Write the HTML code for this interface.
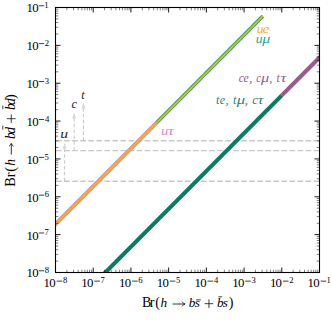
<!DOCTYPE html><html><head><meta charset="utf-8"><style>html,body{margin:0;padding:0;background:#fff;width:332px;height:320px;overflow:hidden}svg{display:block}text{font-family:"Liberation Serif",serif}.it{font-style:italic}</style></head><body>
<svg width="332" height="320" viewBox="0 0 332 320">
<rect width="332" height="320" fill="#fff"/>
<defs><clipPath id="c"><rect x="55.5" y="7.5" width="264.0" height="265.0"/></clipPath></defs>
<g clip-path="url(#c)">
<path d="M55.5 140.75H319.5M55.5 150.65H319.5M55.5 181.2H319.5" stroke="#c8c8c8" stroke-width="1.4" stroke-dasharray="5.6 2.45" stroke-dashoffset="-0.6" fill="none"/>
<path d="M64.6 181.2V148.1" stroke="#c8c8c8" stroke-width="1.05" stroke-dasharray="3.5 2.35" fill="none"/>
<path d="M64.6 148.29999999999998V144.1" stroke="#c8c8c8" stroke-width="1.05"/>
<path d="M64.6 143.1L62.49999999999999 148.7L66.69999999999999 148.7Z" fill="#dadada"/>
<path d="M74.15 150.65V117.9" stroke="#c8c8c8" stroke-width="1.05" stroke-dasharray="3.5 2.35" fill="none"/>
<path d="M74.15 118.10000000000001V113.9" stroke="#c8c8c8" stroke-width="1.05"/>
<path d="M74.15 112.9L72.05000000000001 118.5L76.25 118.5Z" fill="#dadada"/>
<path d="M83.45 140.75V107.8" stroke="#c8c8c8" stroke-width="1.05" stroke-dasharray="3.5 2.35" fill="none"/>
<path d="M83.45 108.0V103.8" stroke="#c8c8c8" stroke-width="1.05"/>
<path d="M83.45 102.8L81.35000000000001 108.39999999999999L85.55 108.39999999999999Z" fill="#dadada"/>
</g>
<g clip-path="url(#c)" fill="none" stroke-linecap="butt">
<path d="M156.00 123.31L262.80 16.11" stroke="#1fa896" stroke-width="3.7"/>
<path d="M156.00 123.31L262.80 16.11" stroke="#ffb000" stroke-width="1.7"/>
<path d="M44.19 235.55L156.00 123.31" stroke="#b39cf2" stroke-width="4.0"/>
<path d="M44.19 235.55L156.00 123.31" stroke="#f28a7c" stroke-width="2.9"/>
<path d="M44.19 235.55L156.00 123.31" stroke="#ffab12" stroke-width="2.0"/>
<path d="M93.21 284.61L281.79 95.33" stroke="#0c7a66" stroke-width="4.1"/>
<path d="M281.79 95.33L338.36 38.54" stroke="#9a5a8b" stroke-width="4.1"/>
</g>
<rect x="55.5" y="7.5" width="264.0" height="265.0" fill="none" stroke="#000" stroke-width="1.1"/>
<path d="M55.50 272.5v-5.0M55.50 7.5v5.0M55.5 272.50h5.0M319.5 272.50h-5.0M93.21 272.5v-5.0M93.21 7.5v5.0M55.5 234.64h5.0M319.5 234.64h-5.0M130.93 272.5v-5.0M130.93 7.5v5.0M55.5 196.79h5.0M319.5 196.79h-5.0M168.64 272.5v-5.0M168.64 7.5v5.0M55.5 158.93h5.0M319.5 158.93h-5.0M206.36 272.5v-5.0M206.36 7.5v5.0M55.5 121.07h5.0M319.5 121.07h-5.0M244.07 272.5v-5.0M244.07 7.5v5.0M55.5 83.21h5.0M319.5 83.21h-5.0M281.79 272.5v-5.0M281.79 7.5v5.0M55.5 45.36h5.0M319.5 45.36h-5.0M319.50 272.5v-5.0M319.50 7.5v5.0M55.5 7.50h5.0M319.5 7.50h-5.0" stroke="#000" stroke-width="0.9"/>
<path d="M66.85 272.5v-2.8M66.85 7.5v2.8M55.5 261.10h2.8M319.5 261.10h-2.8M73.49 272.5v-2.8M73.49 7.5v2.8M55.5 254.44h2.8M319.5 254.44h-2.8M78.21 272.5v-2.8M78.21 7.5v2.8M55.5 249.71h2.8M319.5 249.71h-2.8M81.86 272.5v-2.8M81.86 7.5v2.8M55.5 246.04h2.8M319.5 246.04h-2.8M84.85 272.5v-2.8M84.85 7.5v2.8M55.5 243.04h2.8M319.5 243.04h-2.8M87.37 272.5v-2.8M87.37 7.5v2.8M55.5 240.51h2.8M319.5 240.51h-2.8M89.56 272.5v-2.8M89.56 7.5v2.8M55.5 238.31h2.8M319.5 238.31h-2.8M91.49 272.5v-2.8M91.49 7.5v2.8M55.5 236.38h2.8M319.5 236.38h-2.8M104.57 272.5v-2.8M104.57 7.5v2.8M55.5 223.25h2.8M319.5 223.25h-2.8M111.21 272.5v-2.8M111.21 7.5v2.8M55.5 216.58h2.8M319.5 216.58h-2.8M115.92 272.5v-2.8M115.92 7.5v2.8M55.5 211.85h2.8M319.5 211.85h-2.8M119.58 272.5v-2.8M119.58 7.5v2.8M55.5 208.18h2.8M319.5 208.18h-2.8M122.56 272.5v-2.8M122.56 7.5v2.8M55.5 205.18h2.8M319.5 205.18h-2.8M125.09 272.5v-2.8M125.09 7.5v2.8M55.5 202.65h2.8M319.5 202.65h-2.8M127.27 272.5v-2.8M127.27 7.5v2.8M55.5 200.45h2.8M319.5 200.45h-2.8M129.20 272.5v-2.8M129.20 7.5v2.8M55.5 198.52h2.8M319.5 198.52h-2.8M142.28 272.5v-2.8M142.28 7.5v2.8M55.5 185.39h2.8M319.5 185.39h-2.8M148.92 272.5v-2.8M148.92 7.5v2.8M55.5 178.72h2.8M319.5 178.72h-2.8M153.63 272.5v-2.8M153.63 7.5v2.8M55.5 173.99h2.8M319.5 173.99h-2.8M157.29 272.5v-2.8M157.29 7.5v2.8M55.5 170.32h2.8M319.5 170.32h-2.8M160.28 272.5v-2.8M160.28 7.5v2.8M55.5 167.33h2.8M319.5 167.33h-2.8M162.80 272.5v-2.8M162.80 7.5v2.8M55.5 164.79h2.8M319.5 164.79h-2.8M164.99 272.5v-2.8M164.99 7.5v2.8M55.5 162.60h2.8M319.5 162.60h-2.8M166.92 272.5v-2.8M166.92 7.5v2.8M55.5 160.66h2.8M319.5 160.66h-2.8M180.00 272.5v-2.8M180.00 7.5v2.8M55.5 147.53h2.8M319.5 147.53h-2.8M186.64 272.5v-2.8M186.64 7.5v2.8M55.5 140.87h2.8M319.5 140.87h-2.8M191.35 272.5v-2.8M191.35 7.5v2.8M55.5 136.14h2.8M319.5 136.14h-2.8M195.00 272.5v-2.8M195.00 7.5v2.8M55.5 132.47h2.8M319.5 132.47h-2.8M197.99 272.5v-2.8M197.99 7.5v2.8M55.5 129.47h2.8M319.5 129.47h-2.8M200.52 272.5v-2.8M200.52 7.5v2.8M55.5 126.94h2.8M319.5 126.94h-2.8M202.70 272.5v-2.8M202.70 7.5v2.8M55.5 124.74h2.8M319.5 124.74h-2.8M204.63 272.5v-2.8M204.63 7.5v2.8M55.5 122.80h2.8M319.5 122.80h-2.8M217.71 272.5v-2.8M217.71 7.5v2.8M55.5 109.68h2.8M319.5 109.68h-2.8M224.35 272.5v-2.8M224.35 7.5v2.8M55.5 103.01h2.8M319.5 103.01h-2.8M229.06 272.5v-2.8M229.06 7.5v2.8M55.5 98.28h2.8M319.5 98.28h-2.8M232.72 272.5v-2.8M232.72 7.5v2.8M55.5 94.61h2.8M319.5 94.61h-2.8M235.70 272.5v-2.8M235.70 7.5v2.8M55.5 91.61h2.8M319.5 91.61h-2.8M238.23 272.5v-2.8M238.23 7.5v2.8M55.5 89.08h2.8M319.5 89.08h-2.8M240.42 272.5v-2.8M240.42 7.5v2.8M55.5 86.88h2.8M319.5 86.88h-2.8M242.35 272.5v-2.8M242.35 7.5v2.8M55.5 84.95h2.8M319.5 84.95h-2.8M255.42 272.5v-2.8M255.42 7.5v2.8M55.5 71.82h2.8M319.5 71.82h-2.8M262.07 272.5v-2.8M262.07 7.5v2.8M55.5 65.15h2.8M319.5 65.15h-2.8M266.78 272.5v-2.8M266.78 7.5v2.8M55.5 60.42h2.8M319.5 60.42h-2.8M270.43 272.5v-2.8M270.43 7.5v2.8M55.5 56.75h2.8M319.5 56.75h-2.8M273.42 272.5v-2.8M273.42 7.5v2.8M55.5 53.76h2.8M319.5 53.76h-2.8M275.94 272.5v-2.8M275.94 7.5v2.8M55.5 51.22h2.8M319.5 51.22h-2.8M278.13 272.5v-2.8M278.13 7.5v2.8M55.5 49.03h2.8M319.5 49.03h-2.8M280.06 272.5v-2.8M280.06 7.5v2.8M55.5 47.09h2.8M319.5 47.09h-2.8M293.14 272.5v-2.8M293.14 7.5v2.8M55.5 33.96h2.8M319.5 33.96h-2.8M299.78 272.5v-2.8M299.78 7.5v2.8M55.5 27.29h2.8M319.5 27.29h-2.8M304.49 272.5v-2.8M304.49 7.5v2.8M55.5 22.56h2.8M319.5 22.56h-2.8M308.15 272.5v-2.8M308.15 7.5v2.8M55.5 18.90h2.8M319.5 18.90h-2.8M311.13 272.5v-2.8M311.13 7.5v2.8M55.5 15.90h2.8M319.5 15.90h-2.8M313.66 272.5v-2.8M313.66 7.5v2.8M55.5 13.36h2.8M319.5 13.36h-2.8M315.85 272.5v-2.8M315.85 7.5v2.8M55.5 11.17h2.8M319.5 11.17h-2.8M317.77 272.5v-2.8M317.77 7.5v2.8M55.5 9.23h2.8M319.5 9.23h-2.8" stroke="#000" stroke-width="0.5"/>
<text x="26.52" y="277.45" font-size="12.8">1</text><text x="32.21" y="277.45" font-size="12.8">0</text><rect x="38.85" y="270.47" width="5.30" height="0.75"/><text x="44.72" y="273.10" font-size="8.6">8</text>
<text x="26.52" y="239.59" font-size="12.8">1</text><text x="32.21" y="239.59" font-size="12.8">0</text><rect x="38.85" y="232.61" width="5.30" height="0.75"/><text x="44.48" y="235.24" font-size="8.6">7</text>
<text x="26.52" y="201.74" font-size="12.8">1</text><text x="32.21" y="201.74" font-size="12.8">0</text><rect x="38.85" y="194.76" width="5.30" height="0.75"/><text x="44.68" y="197.39" font-size="8.6">6</text>
<text x="26.52" y="163.88" font-size="12.8">1</text><text x="32.21" y="163.88" font-size="12.8">0</text><rect x="38.85" y="156.90" width="5.30" height="0.75"/><text x="44.55" y="159.53" font-size="8.6">5</text>
<text x="26.52" y="126.02" font-size="12.8">1</text><text x="32.21" y="126.02" font-size="12.8">0</text><rect x="38.85" y="119.04" width="5.30" height="0.75"/><text x="44.88" y="121.67" font-size="8.6">4</text>
<text x="26.52" y="88.16" font-size="12.8">1</text><text x="32.21" y="88.16" font-size="12.8">0</text><rect x="38.85" y="81.18" width="5.30" height="0.75"/><text x="44.64" y="83.81" font-size="8.6">3</text>
<text x="26.52" y="50.31" font-size="12.8">1</text><text x="32.21" y="50.31" font-size="12.8">0</text><rect x="38.85" y="43.33" width="5.30" height="0.75"/><text x="44.67" y="45.96" font-size="8.6">2</text>
<text x="26.52" y="12.45" font-size="12.8">1</text><text x="32.21" y="12.45" font-size="12.8">0</text><rect x="38.85" y="5.47" width="5.30" height="0.75"/><text x="44.29" y="8.10" font-size="8.6">1</text>
<text x="43.62" y="286.50" font-size="12.8">1</text><text x="49.31" y="286.50" font-size="12.8">0</text><rect x="56.65" y="280.72" width="5.60" height="0.75"/><text x="62.92" y="283.10" font-size="8.6">8</text>
<text x="81.34" y="286.50" font-size="12.8">1</text><text x="87.03" y="286.50" font-size="12.8">0</text><rect x="94.36" y="280.72" width="5.60" height="0.75"/><text x="100.40" y="283.10" font-size="8.6">7</text>
<text x="119.05" y="286.50" font-size="12.8">1</text><text x="124.74" y="286.50" font-size="12.8">0</text><rect x="132.08" y="280.72" width="5.60" height="0.75"/><text x="138.31" y="283.10" font-size="8.6">6</text>
<text x="156.77" y="286.50" font-size="12.8">1</text><text x="162.46" y="286.50" font-size="12.8">0</text><rect x="169.79" y="280.72" width="5.60" height="0.75"/><text x="175.89" y="283.10" font-size="8.6">5</text>
<text x="194.48" y="286.50" font-size="12.8">1</text><text x="200.17" y="286.50" font-size="12.8">0</text><rect x="207.51" y="280.72" width="5.60" height="0.75"/><text x="213.94" y="283.10" font-size="8.6">4</text>
<text x="232.20" y="286.50" font-size="12.8">1</text><text x="237.88" y="286.50" font-size="12.8">0</text><rect x="245.22" y="280.72" width="5.60" height="0.75"/><text x="251.41" y="283.10" font-size="8.6">3</text>
<text x="269.91" y="286.50" font-size="12.8">1</text><text x="275.60" y="286.50" font-size="12.8">0</text><rect x="282.94" y="280.72" width="5.60" height="0.75"/><text x="289.16" y="283.10" font-size="8.6">2</text>
<text x="307.62" y="286.50" font-size="12.8">1</text><text x="313.31" y="286.50" font-size="12.8">0</text><rect x="320.65" y="280.72" width="5.60" height="0.75"/><text x="326.49" y="283.10" font-size="8.6">1</text>
<text x="142.10" y="307.30" font-size="14.0">B</text>
<text x="149.82" y="307.30" font-size="14.0">r</text>
<text x="155.18" y="307.30" font-size="14.0">(</text>
<text class="it" x="160.52" y="307.30" font-size="13.2">h</text>
<text class="it" x="188.76" y="307.30" font-size="13.2">b</text>
<text class="it" x="194.84" y="307.30" font-size="13.2">s</text>
<text class="it" x="216.91" y="307.30" font-size="13.2">b</text>
<text class="it" x="222.84" y="307.30" font-size="13.2">s</text>
<text x="228.75" y="307.30" font-size="14.0">)</text>
<path d="M172.60 304.00H184.70" stroke="#000" stroke-width="0.8" fill="none"/><path d="M182.10 301.70Q183.10 303.50 185.10 304.00Q183.10 304.50 182.10 306.30" stroke="#000" stroke-width="0.7200000000000001" fill="none"/>
<path d="M196.1 299.9H200.8M218.4 296.8H222.2M204.6 303.7H213.3M208.95 299.35V308.05" stroke="#000" stroke-width="0.75"/>
<g transform="translate(14.8 0) rotate(-90)">
<text x="-186.81" y="0.00" font-size="14.349999999999998">B</text>
<text x="-177.29" y="0.00" font-size="14.349999999999998">r</text>
<text x="-171.83" y="0.00" font-size="14.349999999999998">(</text>
<text class="it" x="-165.79" y="0.00" font-size="13.596">h</text>
<text class="it" x="-138.90" y="0.00" font-size="13.596">b</text>
<text class="it" x="-133.81" y="0.00" font-size="13.596">d</text>
<text class="it" x="-110.10" y="0.00" font-size="13.596">b</text>
<text class="it" x="-104.91" y="0.00" font-size="13.596">d</text>
<text x="-99.06" y="0.00" font-size="14.349999999999998">)</text>
<path d="M-154.60 -3.50H-143.70" stroke="#000" stroke-width="0.8" fill="none"/><path d="M-146.30 -5.80Q-145.30 -4.00 -143.30 -3.50Q-145.30 -3.00 -146.30 -1.20" stroke="#000" stroke-width="0.7200000000000001" fill="none"/>
<path d="M-129.6 -12.0H-125.6M-109.2 -12.0H-105.6M-123.05 -3.55H-114.35M-118.7 -7.9V0.8" stroke="#000" stroke-width="0.75"/>
</g>
<text class="it" transform="translate(256.83 0) scale(1.091 1)" y="32.80" font-size="12.4" fill="#f3b432">u</text>
<text class="it" transform="translate(262.42 0) scale(1.259 1)" y="32.80" font-size="12.4" fill="#f3b432">e</text>
<text class="it" transform="translate(255.63 0) scale(1.091 1)" y="43.10" font-size="12.4" fill="#2aa597">u</text>
<text class="it" transform="translate(262.22 0) scale(1.288 1)" y="43.10" font-size="12.4" fill="#2aa597">μ</text>
<text class="it" transform="translate(160.98 0) scale(1.169 1)" y="134.80" font-size="12.4" fill="#e688cc">u</text>
<text class="it" transform="translate(167.80 0) scale(1.450 1)" y="134.80" font-size="12.4" fill="#e688cc">τ</text>
<text class="it" transform="translate(238.74 0) scale(0.942 1)" y="82.10" font-size="12.4" fill="#9a5c8e">c</text>
<text class="it" transform="translate(243.54 0) scale(0.950 1)" y="82.10" font-size="12.4" fill="#9a5c8e">e</text>
<text class="it" x="249.29" y="82.10" font-size="12.4" fill="#9a5c8e">,</text>
<text class="it" transform="translate(256.37 0) scale(0.862 1)" y="82.10" font-size="12.4" fill="#9a5c8e">c</text>
<text class="it" transform="translate(260.92 0) scale(1.322 1)" y="82.10" font-size="12.4" fill="#9a5c8e">μ</text>
<text class="it" x="269.29" y="82.10" font-size="12.4" fill="#9a5c8e">,</text>
<text class="it" transform="translate(276.38 0) scale(0.882 1)" y="82.10" font-size="13.392000000000001" fill="#9a5c8e">t</text>
<text class="it" transform="translate(280.54 0) scale(1.321 1)" y="82.10" font-size="12.4" fill="#9a5c8e">τ</text>
<text class="it" transform="translate(216.06 0) scale(0.912 1)" y="104.30" font-size="13.392000000000001" fill="#1f8576">t</text>
<text class="it" transform="translate(219.84 0) scale(0.950 1)" y="104.30" font-size="12.4" fill="#1f8576">e</text>
<text class="it" x="225.39" y="104.30" font-size="12.4" fill="#1f8576">,</text>
<text class="it" transform="translate(232.96 0) scale(0.912 1)" y="104.30" font-size="13.392000000000001" fill="#1f8576">t</text>
<text class="it" transform="translate(236.82 0) scale(1.339 1)" y="104.30" font-size="12.4" fill="#1f8576">μ</text>
<text class="it" x="244.79" y="104.30" font-size="12.4" fill="#1f8576">,</text>
<text class="it" x="252.33" y="104.30" font-size="12.4" fill="#1f8576">c</text>
<text class="it" transform="translate(257.76 0) scale(1.255 1)" y="104.30" font-size="12.4" fill="#1f8576">τ</text>
<text class="it" transform="translate(60.32 0) scale(1.266 1)" y="138.40" font-size="12.4" fill="#262626">u</text>
<text class="it" x="71.52" y="107.80" font-size="12.4" fill="#262626">c</text>
<text class="it" transform="translate(81.36 0) scale(0.912 1)" y="98.80" font-size="13.392000000000001" fill="#262626">t</text>
</svg></body></html>
